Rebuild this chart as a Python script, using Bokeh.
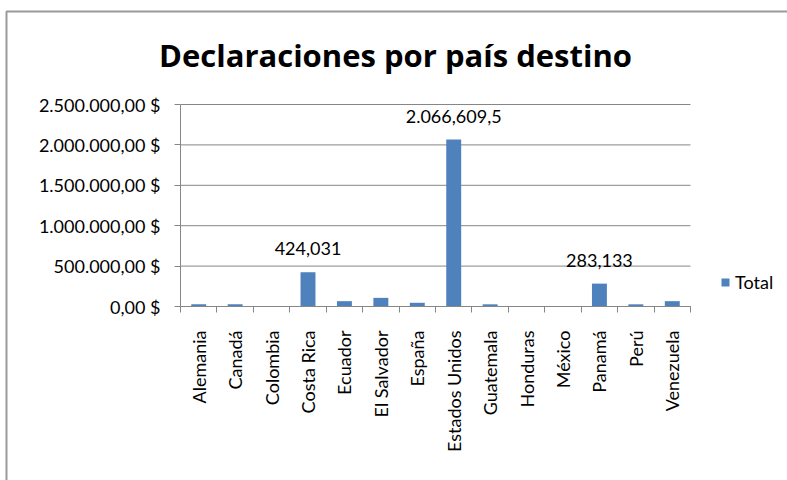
from bokeh.plotting import figure
from bokeh.models import (ColumnDataSource, Range1d, FixedTicker, Legend, LegendItem, Label,
                          BoxAnnotation)
from bokeh.core.properties import value
from bokeh.embed import file_html
from bokeh.resources import INLINE
from math import pi

# ---- data ----
categories = ["Alemania", "Canadá", "Colombia", "Costa Rica", "Ecuador", "El Salvador",
              "España", "Estados Unidos", "Guatemala", "Honduras", "México", "Panamá",
              "Perú", "Venezuela"]
totals = [29000, 29000, 0, 424031, 66000, 107000, 46000, 2066609.5, 27000, 0, 0,
          283133, 27000, 66000]
data_labels = ["", "", "", "424,031", "", "", "", "2.066,609,5", "", "", "", "283,133", "", ""]
y_ticks = [0, 500000, 1000000, 1500000, 2000000, 2500000]
y_tick_labels = ["0,00 $", "500.000,00 $", "1.000.000,00 $", "1.500.000,00 $",
                 "2.000.000,00 $", "2.500.000,00 $"]
title_text = "Declaraciones por país destino"
series_name = "Total"

FONT = "Lato"
TITLE_FONT = "Open Sans"
BAR = "#4F81BD"
GRID = "#868686"
BORDER = "#9A9A9A"

# ---- layout (pixels): the frame fills the canvas, axes sit at fixed locations ----
W, H = 787, 480
AX_L, AX_R = 180, 690      # pixel x of first / last category boundary
AX_B, AX_T = 306, 104      # pixel y of value 0 / top tick

n = len(categories)
y_max = y_ticks[-1]
ux = n / (AX_R - AX_L)          # data units per pixel (x)
uy = y_max / (AX_B - AX_T)      # data units per pixel (y)
x_start, x_end = -AX_L * ux, (W - AX_L) * ux
y_start, y_end = -(H - AX_B) * uy, AX_B * uy


def px_x(px):
    return x_start + px * ux


def px_y(py):
    return y_end - py * uy


centers = [i + 0.5 for i in range(n)]
src = ColumnDataSource(dict(x=centers, top=totals, lab=data_labels, cat=categories))

p = figure(width=W, height=H, output_backend="svg", toolbar_location=None,
           x_range=Range1d(x_start, x_end), y_range=Range1d(y_start, y_end),
           min_border=0, min_border_left=0, min_border_right=0, min_border_top=0,
           min_border_bottom=0)
p.outline_line_color = None
p.background_fill_color = "white"
p.border_fill_color = "white"
p.xgrid.visible = False
p.ygrid.visible = False

# chart-area border (left and top edges visible)
p.add_layout(BoxAnnotation(left=px_x(6), top=px_y(11), right=px_x(W + 20), bottom=px_y(H + 20),
                           fill_alpha=0, line_color=BORDER, line_alpha=1, line_width=2))

# gridlines across the category area only
p.segment(x0=[0] * len(y_ticks), x1=[n] * len(y_ticks), y0=y_ticks, y1=y_ticks,
          line_color=GRID, line_width=1)

bars = p.vbar(x="x", top="top", width=0.41, source=src, fill_color=BAR, line_color=None)

p.text(x="x", y="top", text="lab", source=src, text_align="center", text_baseline="bottom",
       y_offset=-17, text_font=value(FONT), text_font_size="18px", text_color="#000000")

# y axis
ya = p.yaxis[0]
ya.fixed_location = 0
ya.bounds = (0, y_max)
ya.ticker = FixedTicker(ticks=y_ticks)
ya.major_label_overrides = {t: s for t, s in zip(y_ticks, y_tick_labels)}
ya.axis_line_color = GRID
ya.major_tick_line_color = GRID
ya.major_tick_in = 0
ya.major_tick_out = 6
ya.minor_tick_line_color = None
ya.major_label_standoff = 14
ya.major_label_text_font = FONT
ya.major_label_text_font_size = "18px"
ya.major_label_text_color = "#000000"

# x axis: labels at centers, tick marks at category boundaries
xa = p.xaxis[0]
xa.fixed_location = 0
xa.bounds = (0, n)
xa.ticker = FixedTicker(ticks=centers, minor_ticks=list(range(n + 1)))
xa.major_label_overrides = {c: s for c, s in zip(centers, categories)}
xa.major_label_orientation = pi / 2
xa.axis_line_color = GRID
xa.major_tick_line_color = None
xa.minor_tick_line_color = GRID
xa.minor_tick_in = 0
xa.minor_tick_out = 6
xa.major_label_standoff = 18
xa.major_label_text_font = FONT
xa.major_label_text_font_size = "18px"
xa.major_label_text_color = "#000000"

# title
p.add_layout(Label(x=px_x(395), y=px_y(54), text=title_text,
                   text_align="center", text_baseline="alphabetic", text_font=TITLE_FONT,
                   text_font_style="bold", text_font_size="31px", text_color="#000000"))

# legend (location measured from the frame's bottom-left)
leg = Legend(items=[LegendItem(label=series_name, renderers=[bars])], location=(720, 187),
             glyph_width=10, glyph_height=10, label_standoff=5, padding=0, margin=0,
             border_line_color=None, background_fill_alpha=0,
             label_text_font=FONT, label_text_font_size="18px", label_text_color="#000000")
p.add_layout(leg, "center")

open("out.html", "w").write(file_html(p, INLINE))
